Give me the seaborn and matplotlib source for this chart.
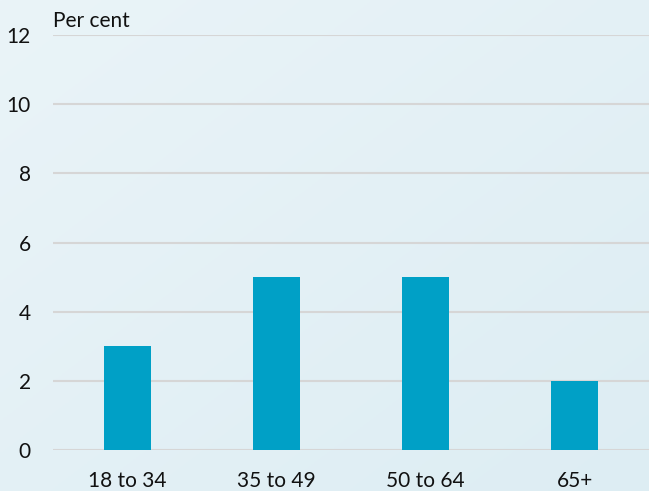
import numpy as np
import pandas as pd
import matplotlib
matplotlib.use('Agg')
import matplotlib.pyplot as plt
import seaborn as sns

# Veriler
kategoriler = ['18 to 34', '35 to 49', '50 to 64', '65+']
degerler = [3, 5, 5, 2]
y_ticks = [0, 2, 4, 6, 8, 10, 12]

df = pd.DataFrame({'grup': kategoriler, 'yuzde': degerler})

sns.set_theme(style='white')
plt.rcParams['font.family'] = ['Lato', 'DejaVu Sans']

fig = plt.figure(figsize=(6.49, 4.91), dpi=100)

# arka plan gradyani
bg = fig.add_axes([0, 0, 1, 1], zorder=-1)
yy, xx = np.mgrid[0:1:200j, 0:1:200j]
t = (xx + yy) / 2
c1 = np.array([0xea, 0xf4, 0xf8]) / 255
c2 = np.array([0xdd, 0xed, 0xf3]) / 255
img = c1[None, None, :] * (1 - t[..., None]) + c2[None, None, :] * t[..., None]
bg.imshow(img, aspect='auto', extent=[0, 1, 0, 1], origin='upper')
bg.axis('off')

ax = fig.add_axes([0.0817, 0.0835, 0.9183, 0.8452])
ax.set_facecolor('none')
sns.barplot(data=df, x='grup', y='yuzde', color='#00a0c6', width=0.315,
            saturation=1, linewidth=0, ax=ax, zorder=3)

ax.set_ylim(0, 12)
ax.set_yticks(y_ticks)
ax.set_xlim(-0.5, 3.5)
ax.yaxis.grid(True, color='#d6d6d6', linewidth=1.5, zorder=0)
ax.xaxis.grid(False)
for s in ax.spines.values():
    s.set_visible(False)
ax.set_xlabel('')
ax.set_ylabel('')
ax.tick_params(axis='y', length=0, pad=16, labelsize=15, labelcolor='#111111')
ax.tick_params(axis='x', length=0, pad=15, labelsize=15, labelcolor='#111111')

fig.text(0.0817, 0.957, 'Per cent', fontsize=15, color='#111111',
         ha='left', va='center')

fig.savefig('out.png', dpi=100)
